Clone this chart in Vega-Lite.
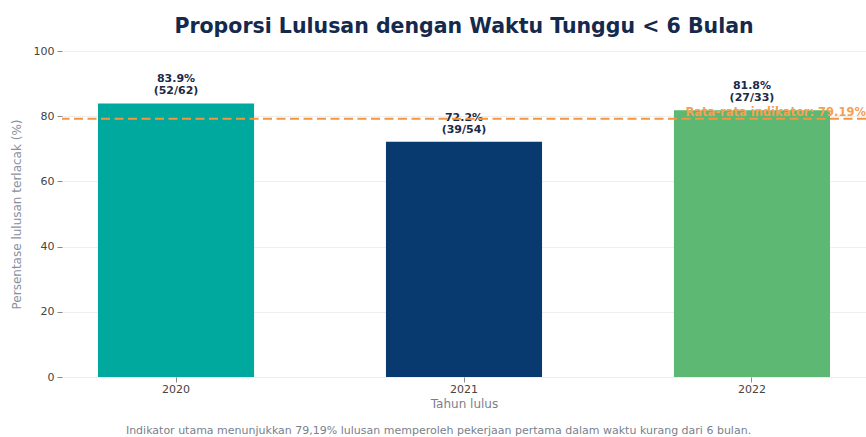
{
  "$schema": "https://vega.github.io/schema/vega-lite/v6.json",
  "padding": {"left": 10, "top": 16, "right": 0, "bottom": 0},
  "background": "white",
  "title": {
    "text": "Indikator utama menunjukkan 79,19% lulusan memperoleh pekerjaan pertama dalam waktu kurang dari 6 bulan.",
    "orient": "bottom",
    "anchor": "middle",
    "frame": "bounds",
    "font": "DejaVu Sans",
    "fontSize": 11,
    "fontWeight": "normal",
    "color": "#7a7f8c",
    "offset": 16
  },
  "datasets": {
    "bars": [
      {"tahun": "2020", "persen": 83.9, "label1": "83.9%", "label2": "(52/62)"},
      {"tahun": "2021", "persen": 72.2, "label1": "72.2%", "label2": "(39/54)"},
      {"tahun": "2022", "persen": 81.8, "label1": "81.8%", "label2": "(27/33)"}
    ],
    "avg": [{"nilai": 79.19, "teks": "Rata-rata indikator: 79.19%"}]
  },
  "vconcat": [
    {
      "width": 804,
      "height": 326,
      "title": {
        "text": "Proporsi Lulusan dengan Waktu Tunggu < 6 Bulan",
        "anchor": "middle",
        "frame": "group",
        "font": "DejaVu Sans",
        "fontSize": 20.5,
        "fontWeight": "bold",
        "color": "#15294d",
        "offset": 8
      },
      "layer": [
        {
          "data": {"name": "bars"},
          "mark": {"type": "bar"},
          "encoding": {
            "x": {
              "field": "tahun",
              "type": "nominal",
              "sort": null,
              "scale": {"paddingInner": 0.458, "paddingOuter": 0.125},
              "axis": {
                "title": "Tahun lulus",
                "labelAngle": 0,
                "labelFont": "DejaVu Sans",
                "labelFontSize": 11,
                "labelColor": "#444444",
                "titleFont": "DejaVu Sans",
                "titleFontSize": 12,
                "titleFontWeight": "normal",
                "titleColor": "#7a7f8c",
                "titlePadding": 4,
                "domain": false,
                "ticks": true,
                "tickSize": 5,
                "tickColor": "#888888",
                "labelPadding": 1,
                "grid": false
              }
            },
            "y": {
              "field": "persen",
              "type": "quantitative",
              "scale": {"domain": [0, 100]},
              "axis": {
                "title": "Persentase lulusan terlacak (%)",
                "values": [0, 20, 40, 60, 80, 100],
                "labelFont": "DejaVu Sans",
                "labelFontSize": 11,
                "labelColor": "#444444",
                "titleFont": "DejaVu Sans",
                "titleFontSize": 12,
                "titleFontWeight": "normal",
                "titleColor": "#8a8fa0",
                "titlePadding": 10,
                "domain": false,
                "tickSize": 5,
                "tickColor": "#888888",
                "labelPadding": 3,
                "gridColor": "#eeeeee",
                "gridWidth": 1
              }
            },
            "color": {
              "field": "tahun",
              "type": "nominal",
              "scale": {"domain": ["2020", "2021", "2022"], "range": ["#00a99d", "#083a70", "#5db873"]},
              "legend": null
            }
          }
        },
        {
          "data": {"name": "bars"},
          "transform": [{"calculate": "[datum.label1, datum.label2]", "as": "lbl"}],
          "mark": {"type": "text", "font": "DejaVu Sans", "fontSize": 11, "fontWeight": "bold", "color": "#1b2a4a", "baseline": "bottom", "dy": -19, "lineHeight": 12},
          "encoding": {
            "x": {"field": "tahun", "type": "nominal", "sort": null},
            "y": {"field": "persen", "type": "quantitative"},
            "text": {"field": "lbl"}
          }
        },
        {
          "data": {"name": "avg"},
          "mark": {"type": "rule", "color": "#f5953f", "strokeWidth": 2, "strokeDash": [9, 4.5]},
          "encoding": {
            "y": {"field": "nilai", "type": "quantitative"}
          }
        },
        {
          "data": {"name": "avg"},
          "mark": {"type": "text", "font": "DejaVu Sans", "fontSize": 11.5, "fontWeight": "bold", "color": "#f5a050", "align": "right", "baseline": "bottom", "dy": -1},
          "encoding": {
            "x": {"value": "width"},
            "y": {"field": "nilai", "type": "quantitative"},
            "text": {"field": "teks", "type": "nominal"}
          }
        }
      ]
    }
  ],
  "config": {"view": {"stroke": null}, "concat": {"spacing": 0}}
}
